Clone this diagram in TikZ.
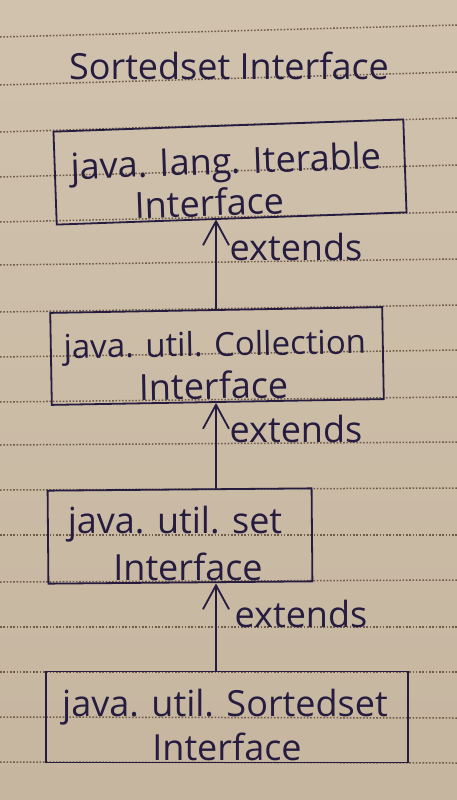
\documentclass[tikz,border=0pt]{standalone}
\usepackage{fontspec}
\setmainfont{Open Sans}
\usetikzlibrary{arrows.meta}
\definecolor{paperlight}{RGB}{208,194,173}
\definecolor{paperdark}{RGB}{198,182,160}
\definecolor{rulecol}{RGB}{112,92,74}
\definecolor{ink}{RGB}{38,28,64}
\tikzset{
  ruled/.style={draw=rulecol, line width=1.5pt, dash pattern=on 1.6pt off 1.7pt},
  ifacebox/.style={draw=ink, line width=1.8pt, rectangle, inner sep=0pt},
  hand/.style={text=ink, font=\fontsize{36}{42}\selectfont, anchor=base, inner sep=0pt},
  handsmall/.style={hand, font=\fontsize{33}{40}\selectfont},
  inherits/.style={draw=ink, line width=1.8pt,
    -{Straight Barb[length=24pt,width=26pt,line width=1.8pt]}},
}
\begin{document}
\begin{tikzpicture}[x=1pt,y=-1pt]
\useasboundingbox (0,0) rectangle (457,800);
% notebook paper
\shade[top color=paperlight, bottom color=paperdark] (0,0) rectangle (457,800);
\foreach \l/\r in {37/25,85/72,132/118,177/165,222/212,265/259,312/305,357/350,
                   402/397,445/442,490/488,535/535,582/580,627/627,672/672,717/718,762/763}
  \draw[ruled] (0,\l) -- (457,\r);

% title
\node[hand] (title) at (229,80) {Sortedset Interface};

% interface boxes
\node[ifacebox, minimum width=350pt, minimum height=93pt, rotate=2] (b1) at (230,172) {};
\node[hand, rotate=2] (b1a) at (227,174) {java. lang. Iterable};
\node[hand, rotate=2] (b1b) at (210,216) {Interface};

\node[ifacebox, minimum width=332pt, minimum height=92pt, rotate=1] (b2) at (217,356) {};
\node[handsmall, rotate=1] (b2a) at (215,356) {java. util. Collection};
\node[hand, rotate=1] (b2b) at (214,399) {Interface};

\node[ifacebox, minimum width=264pt, minimum height=93pt, rotate=0.5] (b3) at (180,536) {};
\node[hand] (b3a) at (175,533) {java. util. set};
\node[hand] (b3b) at (188,580) {Interface};

\node[ifacebox, minimum width=362pt, minimum height=91pt] (b4) at (227,717) {};
\node[hand] (b4a) at (225,716) {java. util. Sortedset};
\node[hand] (b4b) at (227,760) {Interface};

% extends arrows
\coordinate (ax) at (216,0);
\draw[inherits] (ax |- b2.north) -- (ax |- b1.south);
\draw[inherits] (ax |- b3.north) -- (ax |- b2.south);
\draw[inherits] (ax |- b4.north) -- (ax |- b3.south);

\node[hand] (e1) at (296,260) {extends};
\node[hand] (e2) at (296,442) {extends};
\node[hand] (e3) at (301,627) {extends};
\end{tikzpicture}
\end{document}
